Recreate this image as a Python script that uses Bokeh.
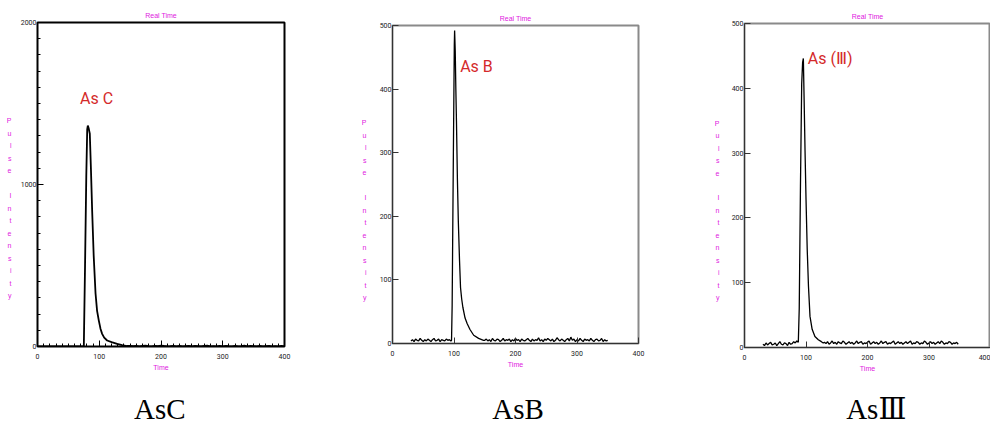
from bokeh.plotting import figure
from bokeh.layouts import row, column
from bokeh.models import Range1d, Label, SingleIntervalTicker, FixedTicker, LinearAxis
from bokeh.embed import file_html
from bokeh.resources import INLINE

# ---------------- data ----------------
X_MAX = 400

# AsC : peak part
asc_peak_t = [0, 75, 77, 79, 80.5, 81.5, 83, 84.7, 86.5, 88.5, 91, 94, 96.5, 99.3,
              102, 104.7, 108, 112.8, 120, 129, 137, 145]
asc_peak_i = [0, 0, 500, 1050, 1340, 1364, 1345, 1313, 1100, 840, 560, 327, 220, 160,
              110, 78, 55, 37, 27, 16, 8, 3]
asc_tail_start, asc_tail_step = 150, 5
asc_tail_i = [3, 2, 4, 1, 3, 5, 2, 1, 4, 2, 6, 3, 1, 2, 4, 1, 3, 0, 2, 4,
              1, 3, 2, 0, 3, 5, 1, 2, 0, 3, 1, 4, 2, 1, 3, 0, 2, 5, 1, 3,
              2, 0, 4, 1, 2, 3, 0, 2, 1, 3, 1]

# AsB
asb_pre_start, asb_step = 30, 2.5
asb_pre_i = [4, 6, 3, 7, 5, 4, 8, 5, 3, 6, 4, 7, 5, 3, 6, 8, 4, 5, 7, 3,
             6, 5, 4, 7, 5, 6, 4]
asb_peak_t = [96, 97, 99, 100.5, 101, 102, 103, 104, 105.5, 107, 109, 110.6, 112.5,
              114.4, 118, 121.5, 126, 132, 140, 148]
asb_peak_i = [5, 60, 300, 470, 492, 460, 400, 350, 260, 193, 130, 88, 70,
              57, 40, 31, 22, 13, 8, 5]
asb_post_start = 150
asb_post_i = [5, 7, 4, 6, 3, 8, 5, 4, 7, 6, 3, 5, 8, 4, 6, 5, 7, 3, 6, 4,
              8, 5, 6, 3, 7, 5, 4, 6, 8, 5, 3, 7, 4, 6, 5, 9, 4, 6, 3, 7,
              5, 8, 6, 4, 7, 3, 5, 9, 6, 4, 7, 5, 3, 6, 8, 4, 10, 5, 7, 3,
              6, 4, 8, 5, 3, 7, 5, 6, 4, 8, 5, 3, 6, 7, 4, 5, 8, 3, 6, 4, 5]

# As(III)
as3_pre_start, as3_step = 30, 2.5
as3_pre_i = [5, 3, 7, 4, 6, 8, 4, 5, 7, 3, 6, 9, 5, 4, 7, 6, 3, 8, 5, 6, 9, 7, 10]
as3_peak_t = [87.5, 89, 91, 93, 94.5, 95.7, 97, 98.4, 100, 102, 104, 106.5, 110,
              114.5, 120, 125, 128]
as3_peak_i = [8, 60, 250, 407, 440, 446, 380, 305, 230, 151, 95, 48, 28,
              17, 12, 9, 7]
as3_post_start = 130
as3_post_i = [8, 6, 9, 5, 7, 10, 6, 8, 5, 9, 7, 6, 10, 8, 5, 7, 9, 6, 8, 5,
              7, 10, 6, 8, 9, 5, 7, 6, 8, 10, 5, 7, 9, 6, 8, 5, 7, 10, 6, 8,
              9, 5, 7, 6, 8, 10, 5, 7, 9, 6, 8, 5, 7, 9, 6, 8, 10, 5, 7, 6,
              9, 8, 5, 7, 6, 10, 8, 5, 7, 9, 6, 8, 5, 7, 9, 6, 10, 8, 5, 7,
              6, 9, 8, 5, 7, 6, 8, 5]

peak_names = ["As C", "As B", "As (Ⅲ)"]
captions = ["AsC", "AsB", "AsⅢ"]
y_maxes = [2000, 500, 500]
y_intervals = [1000, 100, 100]
title_text = "Real Time"
x_label = "Time"
y_label = "Pulse Intensity"


def grid(start, step, n):
    return [start + step * k for k in range(n)]


asc_t = asc_peak_t + grid(asc_tail_start, asc_tail_step, len(asc_tail_i))
asc_i = asc_peak_i + asc_tail_i
asb_t = grid(asb_pre_start, asb_step, len(asb_pre_i)) + asb_peak_t + grid(asb_post_start, asb_step, len(asb_post_i))
asb_i = asb_pre_i + asb_peak_i + asb_post_i
as3_t = grid(as3_pre_start, as3_step, len(as3_pre_i)) + as3_peak_t + grid(as3_post_start, as3_step, len(as3_post_i))
as3_i = as3_pre_i + as3_peak_i + as3_post_i

# ---------------- styling ----------------
MAGENTA = "#e020e0"
RED = "#d42a2a"
NARROW = "Roboto"
SANS = "Liberation Sans"
SERIF = "Liberation Serif, DejaVu Serif, serif"
CAP_H = 50
MAIN_H = 424 - CAP_H


def panel(t, i, k, width, left, frame_w, top, frame_bottom, frame_color, axis_color,
          line_w, label_pos, ylab_top, ylab_standoff, minor_x, minor_y, title_standoff,
          caption_left):
    bottom = MAIN_H - frame_bottom
    right = width - left - frame_w
    frame_h = MAIN_H - top - bottom
    p = figure(width=width, height=MAIN_H, output_backend="svg", toolbar_location=None,
               x_range=Range1d(0, X_MAX), y_range=Range1d(0, y_maxes[k]),
               min_border_left=left, min_border_right=right,
               min_border_top=top, min_border_bottom=bottom,
               background_fill_color="white", border_fill_color="white")
    p.grid.visible = False
    p.outline_line_color = frame_color
    p.outline_line_width = 2

    p.title.text = title_text
    p.title.align = "center"
    p.title.text_font = SANS
    p.title.text_font_size = "7px"
    p.title.text_font_style = "normal"
    p.title.text_color = MAGENTA
    p.title.standoff = title_standoff

    p.xaxis.ticker = SingleIntervalTicker(interval=100, num_minor_ticks=minor_x)
    p.yaxis.ticker = SingleIntervalTicker(interval=y_intervals[k], num_minor_ticks=minor_y)
    for ax in (p.xaxis[0], p.yaxis[0]):
        ax.axis_line_color = axis_color
        ax.major_tick_line_color = axis_color
        ax.minor_tick_line_color = axis_color
        ax.major_tick_in = 6
        ax.major_tick_out = 0
        ax.minor_tick_in = 3
        ax.minor_tick_out = 0
        ax.major_label_text_font = NARROW
        ax.major_label_text_font_size = "7px"
        ax.major_label_text_color = "#222222"
    p.xaxis.major_label_standoff = 7
    p.yaxis.major_label_standoff = 1
    p.xaxis.axis_label = x_label
    p.xaxis.axis_label_text_font = SANS
    p.xaxis.axis_label_text_font_size = "7px"
    p.xaxis.axis_label_text_font_style = "normal"
    p.xaxis.axis_label_text_color = MAGENTA
    p.xaxis.axis_label_standoff = 2

    # stacked (letter by letter) vertical axis title, as an extra axis
    p.extra_y_ranges = {"letters": Range1d(0, frame_h)}
    ticks, overrides = [], {}
    for j, ch in enumerate(y_label):
        if ch != " ":
            v = float(ylab_top - 12.5 * j)
            ticks.append(v)
            overrides[v] = ch
    lax = LinearAxis(y_range_name="letters", ticker=FixedTicker(ticks=ticks, minor_ticks=[]),
                     major_label_overrides=overrides, axis_line_color=None,
                     major_tick_line_color=None, minor_tick_line_color=None,
                     major_tick_in=0, major_tick_out=0,
                     major_label_standoff=ylab_standoff,
                     major_label_text_color=MAGENTA, major_label_text_font=SANS,
                     major_label_text_font_size="7px")
    p.add_layout(lax, "left")

    p.line(t, i, line_color="black", line_width=line_w)

    p.add_layout(Label(x=label_pos[0], y=label_pos[1], text=peak_names[k],
                       text_font=NARROW, text_font_size="16px",
                       text_color=RED))

    # caption below the chart
    c = figure(width=width, height=CAP_H, output_backend="svg", toolbar_location=None,
               x_range=Range1d(0, width), y_range=Range1d(0, CAP_H),
               x_axis_location=None, y_axis_location=None, title=None,
               min_border=0, outline_line_color=None,
               background_fill_color="white", border_fill_color="white")
    c.grid.visible = False
    c.add_layout(Label(x=caption_left, y=16, text=captions[k], text_align="left",
                       text_baseline="alphabetic", text_font=SERIF,
                       text_font_size="29px", text_color="black"))
    return column(p, c, spacing=0)


p1 = panel(asc_t, asc_i, 0, 340, 37, 247, 22, 346, "black", "black", 1.8,
           (69, 1475), 226, 6, 10, 10, 8, 133)
p2 = panel(asb_t, asb_i, 1, 350, 52, 246, 25, 343, "#8a8a8a", "#333333", 1.3,
           (110, 421), 221, 10, 0, 0, 7, 142)
p3 = panel(as3_t, as3_i, 2, 300, 54, 246, 23, 348, "#8a8a8a", "#333333", 1.3,
           (103, 431), 225, 9, 0, 0, 8, 124)

layout = row(p1, p2, p3, spacing=0)
open("out.html", "w").write(file_html(layout, INLINE))
